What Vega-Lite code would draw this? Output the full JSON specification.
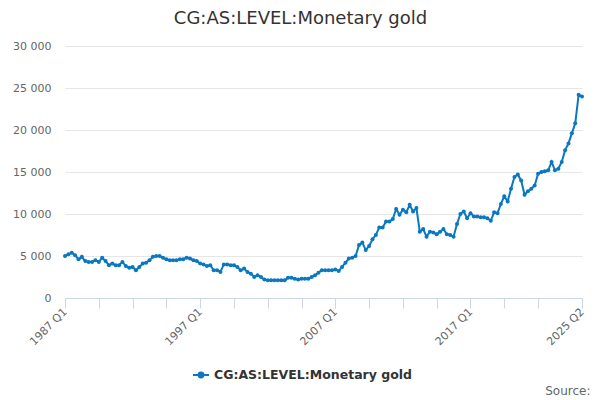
{
  "$schema": "https://vega.github.io/schema/vega-lite/v6.json",
  "autosize": {"type": "none"},
  "width": 517,
  "height": 252,
  "padding": {"left": 65, "top": 46, "right": 18, "bottom": 102},
  "background": "white",
  "title": {
    "text": "CG:AS:LEVEL:Monetary gold",
    "font": "DejaVu Sans",
    "fontSize": 18,
    "fontWeight": "normal",
    "color": "#333333",
    "anchor": "middle",
    "baseline": "alphabetic",
    "dx": -23,
    "offset": -2
  },
  "data": {
    "values": [
      {"q": "1987 Q1", "v": 5000}, {"q": "1987 Q2", "v": 5200}, {"q": "1987 Q3", "v": 5400}, {"q": "1987 Q4", "v": 5100},
      {"q": "1988 Q1", "v": 4600}, {"q": "1988 Q2", "v": 4900}, {"q": "1988 Q3", "v": 4400}, {"q": "1988 Q4", "v": 4300},
      {"q": "1989 Q1", "v": 4300}, {"q": "1989 Q2", "v": 4500}, {"q": "1989 Q3", "v": 4300}, {"q": "1989 Q4", "v": 4800},
      {"q": "1990 Q1", "v": 4400}, {"q": "1990 Q2", "v": 3900}, {"q": "1990 Q3", "v": 4100}, {"q": "1990 Q4", "v": 3900},
      {"q": "1991 Q1", "v": 3900}, {"q": "1991 Q2", "v": 4300}, {"q": "1991 Q3", "v": 3800}, {"q": "1991 Q4", "v": 3600},
      {"q": "1992 Q1", "v": 3700}, {"q": "1992 Q2", "v": 3300}, {"q": "1992 Q3", "v": 3700}, {"q": "1992 Q4", "v": 4100},
      {"q": "1993 Q1", "v": 4200}, {"q": "1993 Q2", "v": 4500}, {"q": "1993 Q3", "v": 4900}, {"q": "1993 Q4", "v": 5000},
      {"q": "1994 Q1", "v": 5000}, {"q": "1994 Q2", "v": 4800}, {"q": "1994 Q3", "v": 4600}, {"q": "1994 Q4", "v": 4500},
      {"q": "1995 Q1", "v": 4500}, {"q": "1995 Q2", "v": 4500}, {"q": "1995 Q3", "v": 4600}, {"q": "1995 Q4", "v": 4600},
      {"q": "1996 Q1", "v": 4800}, {"q": "1996 Q2", "v": 4700}, {"q": "1996 Q3", "v": 4500}, {"q": "1996 Q4", "v": 4400},
      {"q": "1997 Q1", "v": 4100}, {"q": "1997 Q2", "v": 4000}, {"q": "1997 Q3", "v": 3800}, {"q": "1997 Q4", "v": 3900},
      {"q": "1998 Q1", "v": 3300}, {"q": "1998 Q2", "v": 3300}, {"q": "1998 Q3", "v": 3100}, {"q": "1998 Q4", "v": 4000},
      {"q": "1999 Q1", "v": 4000}, {"q": "1999 Q2", "v": 3900}, {"q": "1999 Q3", "v": 3900}, {"q": "1999 Q4", "v": 3700},
      {"q": "2000 Q1", "v": 3300}, {"q": "2000 Q2", "v": 3500}, {"q": "2000 Q3", "v": 3100}, {"q": "2000 Q4", "v": 2900},
      {"q": "2001 Q1", "v": 2500}, {"q": "2001 Q2", "v": 2700}, {"q": "2001 Q3", "v": 2500}, {"q": "2001 Q4", "v": 2200},
      {"q": "2002 Q1", "v": 2100}, {"q": "2002 Q2", "v": 2100}, {"q": "2002 Q3", "v": 2100}, {"q": "2002 Q4", "v": 2100},
      {"q": "2003 Q1", "v": 2100}, {"q": "2003 Q2", "v": 2100}, {"q": "2003 Q3", "v": 2400}, {"q": "2003 Q4", "v": 2400},
      {"q": "2004 Q1", "v": 2300}, {"q": "2004 Q2", "v": 2200}, {"q": "2004 Q3", "v": 2300}, {"q": "2004 Q4", "v": 2300},
      {"q": "2005 Q1", "v": 2300}, {"q": "2005 Q2", "v": 2500}, {"q": "2005 Q3", "v": 2700}, {"q": "2005 Q4", "v": 3000},
      {"q": "2006 Q1", "v": 3300}, {"q": "2006 Q2", "v": 3300}, {"q": "2006 Q3", "v": 3300}, {"q": "2006 Q4", "v": 3300},
      {"q": "2007 Q1", "v": 3400}, {"q": "2007 Q2", "v": 3200}, {"q": "2007 Q3", "v": 3700}, {"q": "2007 Q4", "v": 4200},
      {"q": "2008 Q1", "v": 4700}, {"q": "2008 Q2", "v": 4800}, {"q": "2008 Q3", "v": 5000}, {"q": "2008 Q4", "v": 6300},
      {"q": "2009 Q1", "v": 6600}, {"q": "2009 Q2", "v": 5700}, {"q": "2009 Q3", "v": 6200}, {"q": "2009 Q4", "v": 7000},
      {"q": "2010 Q1", "v": 7500}, {"q": "2010 Q2", "v": 8400}, {"q": "2010 Q3", "v": 8400}, {"q": "2010 Q4", "v": 9100},
      {"q": "2011 Q1", "v": 9100}, {"q": "2011 Q2", "v": 9400}, {"q": "2011 Q3", "v": 10600}, {"q": "2011 Q4", "v": 9900},
      {"q": "2012 Q1", "v": 10500}, {"q": "2012 Q2", "v": 10200}, {"q": "2012 Q3", "v": 11100}, {"q": "2012 Q4", "v": 10300},
      {"q": "2013 Q1", "v": 10700}, {"q": "2013 Q2", "v": 7900}, {"q": "2013 Q3", "v": 8200}, {"q": "2013 Q4", "v": 7300},
      {"q": "2014 Q1", "v": 7900}, {"q": "2014 Q2", "v": 7800}, {"q": "2014 Q3", "v": 7600}, {"q": "2014 Q4", "v": 7900},
      {"q": "2015 Q1", "v": 8200}, {"q": "2015 Q2", "v": 7600}, {"q": "2015 Q3", "v": 7500}, {"q": "2015 Q4", "v": 7300},
      {"q": "2016 Q1", "v": 8800}, {"q": "2016 Q2", "v": 10000}, {"q": "2016 Q3", "v": 10300}, {"q": "2016 Q4", "v": 9500},
      {"q": "2017 Q1", "v": 10100}, {"q": "2017 Q2", "v": 9700}, {"q": "2017 Q3", "v": 9700}, {"q": "2017 Q4", "v": 9600},
      {"q": "2018 Q1", "v": 9600}, {"q": "2018 Q2", "v": 9500}, {"q": "2018 Q3", "v": 9200}, {"q": "2018 Q4", "v": 10200},
      {"q": "2019 Q1", "v": 10100}, {"q": "2019 Q2", "v": 11200}, {"q": "2019 Q3", "v": 12100}, {"q": "2019 Q4", "v": 11500},
      {"q": "2020 Q1", "v": 13000}, {"q": "2020 Q2", "v": 14400}, {"q": "2020 Q3", "v": 14700}, {"q": "2020 Q4", "v": 14000},
      {"q": "2021 Q1", "v": 12300}, {"q": "2021 Q2", "v": 12700}, {"q": "2021 Q3", "v": 13000}, {"q": "2021 Q4", "v": 13400},
      {"q": "2022 Q1", "v": 14800}, {"q": "2022 Q2", "v": 15000}, {"q": "2022 Q3", "v": 15100}, {"q": "2022 Q4", "v": 15200},
      {"q": "2023 Q1", "v": 16200}, {"q": "2023 Q2", "v": 15200}, {"q": "2023 Q3", "v": 15400}, {"q": "2023 Q4", "v": 16200},
      {"q": "2024 Q1", "v": 17600}, {"q": "2024 Q2", "v": 18400}, {"q": "2024 Q3", "v": 19600}, {"q": "2024 Q4", "v": 20800},
      {"q": "2025 Q1", "v": 24200}, {"q": "2025 Q2", "v": 24000}
    ]
  },
  "mark": {
    "type": "line",
    "strokeWidth": 2,
    "point": {"filled": true, "size": 16}
  },
  "encoding": {
    "x": {
      "field": "q",
      "type": "ordinal",
      "sort": null,
      "scale": {"type": "point", "padding": 0},
      "axis": {
        "title": "Source:",
        "titleFont": "DejaVu Sans",
        "titleFontSize": 12,
        "titleFontWeight": "normal",
        "titleColor": "#666666",
        "titleAnchor": "end",
        "titleAlign": "right",
        "titleBaseline": "alphabetic",
        "titleX": 525,
        "titleY": 96,
        "values": ["1987 Q1", "1989 Q3", "1992 Q1", "1994 Q3", "1997 Q1", "1999 Q3", "2002 Q1", "2004 Q3", "2007 Q1", "2009 Q3", "2012 Q1", "2014 Q3", "2017 Q1", "2019 Q3", "2022 Q1", "2025 Q2"],
        "labelExpr": "test(/^(1987 Q1|1997 Q1|2007 Q1|2017 Q1|2025 Q2)$/, datum.value) ? datum.value : ''",
        "labelAngle": -45,
        "labelAlign": "right",
        "labelBaseline": "middle",
        "labelOverlap": false,
        "labelPadding": 2,
        "labelFont": "DejaVu Sans",
        "labelFontSize": 11,
        "labelColor": "#666666",
        "domainColor": "#ccd6eb",
        "tickColor": "#ccd6eb",
        "tickSize": 10,
        "grid": false
      }
    },
    "y": {
      "field": "v",
      "type": "quantitative",
      "scale": {"domain": [0, 30000], "nice": false},
      "axis": {
        "title": null,
        "values": [0, 5000, 10000, 15000, 20000, 25000, 30000],
        "labelExpr": "replace(format(datum.value, ',d'), ',', ' ')",
        "labelFont": "DejaVu Sans",
        "labelFontSize": 11,
        "labelColor": "#666666",
        "labelPadding": 14,
        "domain": false,
        "ticks": false,
        "grid": true,
        "gridColor": "#e6e6e6"
      }
    },
    "color": {
      "datum": "CG:AS:LEVEL:Monetary gold",
      "type": "nominal",
      "scale": {"range": ["#0a78c0"]},
      "legend": {
        "title": null,
        "orient": "none",
        "legendX": 127,
        "legendY": 320,
        "symbolType": "M-1,0L1,0M-0.3,0a0.3,0.3 0 1,0 0.6,0a0.3,0.3 0 1,0 -0.6,0",
        "symbolSize": 256,
        "symbolStrokeWidth": 2,
        "symbolFillColor": "#0a78c0",
        "labelFont": "DejaVu Sans",
        "labelFontSize": 12.5,
        "labelFontWeight": "bold",
        "labelColor": "#333333",
        "labelLimit": 400
      }
    }
  },
  "config": {
    "view": {"stroke": null}
  }
}
